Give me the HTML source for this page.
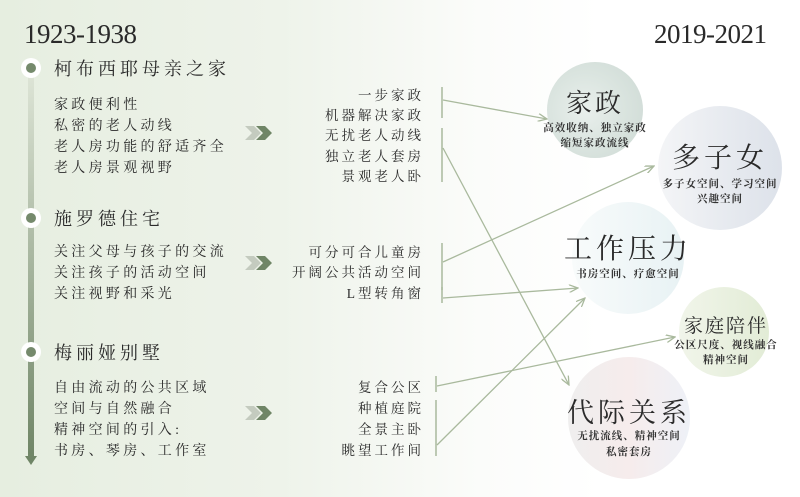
<!DOCTYPE html>
<html><head><meta charset="utf-8"><style>
html,body{margin:0;padding:0;background:#fff}
svg{display:block}
text{font-family:"Liberation Serif","Noto Serif CJK SC",serif;fill:#2a2a2a}
.l{font-size:14px;letter-spacing:3.3px}
.r{font-size:13.5px;letter-spacing:3px;text-anchor:end}
.h{font-size:18px;letter-spacing:4px}
.c{text-anchor:middle}
.s{font-size:10.5px;letter-spacing:1px;font-weight:bold;fill:#333}
</style></head><body>
<svg width="800" height="497" viewBox="0 0 800 497" xmlns="http://www.w3.org/2000/svg">
<defs>
<linearGradient id="bg" x1="0" x2="1" y1="0" y2="0">
<stop offset="0" stop-color="#e6eee0"/><stop offset="0.35" stop-color="#eef3ea"/><stop offset="0.6" stop-color="#fbfcfa"/><stop offset="0.75" stop-color="#fff"/></linearGradient>
<linearGradient id="bar" x1="0" x2="0" y1="0" y2="1"><stop offset="0" stop-color="#dfe6d8"/><stop offset="1" stop-color="#6f8566"/></linearGradient>
<radialGradient id="g1" cx="0.4" cy="0.5" r="0.6"><stop offset="0" stop-color="#e9efec"/><stop offset="0.6" stop-color="#dbe5e0"/><stop offset="1" stop-color="#d3ded9"/></radialGradient>
<linearGradient id="g2" x1="0" x2="1"><stop offset="0" stop-color="#f4f5f7"/><stop offset="0.5" stop-color="#e8ebf0"/><stop offset="1" stop-color="#dde2ea"/></linearGradient>
<linearGradient id="g3" x1="0" x2="1"><stop offset="0" stop-color="#f8fbfb"/><stop offset="1" stop-color="#e8f2f4"/></linearGradient>
<linearGradient id="g4" x1="0" x2="1"><stop offset="0" stop-color="#f1f5ea"/><stop offset="1" stop-color="#e2ecd6"/></linearGradient>
<linearGradient id="g5" x1="0" x2="1"><stop offset="0" stop-color="#efeeee"/><stop offset="0.5" stop-color="#f6ecec"/><stop offset="1" stop-color="#eef1f7"/></linearGradient>
<marker id="ar" markerWidth="10" markerHeight="8" refX="9" refY="4" orient="auto" markerUnits="userSpaceOnUse"><path d="M0,0 L9,4 L0,8" fill="none" stroke="#a9b99d" stroke-width="1.3"/></marker>
</defs>
<rect width="800" height="497" fill="url(#bg)"/>
<rect x="28" y="68" width="6" height="390" fill="url(#bar)"/>
<path d="M25,456 L37,456 L31,465 Z" fill="#6f8566"/>
<g fill="#fff"><circle cx="31" cy="68" r="10"/><circle cx="31" cy="218" r="10"/><circle cx="31" cy="352" r="10"/></g>
<g fill="#758a6c"><circle cx="31" cy="68" r="5"/><circle cx="31" cy="218" r="5"/><circle cx="31" cy="352" r="5"/></g>
<text x="24" y="43" style="font-size:27px;letter-spacing:-0.5px">1923-1938</text>
<text x="654" y="43" style="font-size:27px;letter-spacing:-0.5px">2019-2021</text>
<text class="h" x="54" y="75">柯布西耶母亲之家</text>
<text class="h" x="54" y="225">施罗德住宅</text>
<text class="h" x="54" y="359">梅丽娅别墅</text>
<text class="l" x="54" y="109">家政便利性</text>
<text class="l" x="54" y="130">私密的老人动线</text>
<text class="l" x="54" y="151">老人房功能的舒适齐全</text>
<text class="l" x="54" y="172">老人房景观视野</text>
<text class="l" x="54" y="256">关注父母与孩子的交流</text>
<text class="l" x="54" y="277">关注孩子的活动空间</text>
<text class="l" x="54" y="298">关注视野和采光</text>
<text class="l" x="54" y="392">自由流动的公共区域</text>
<text class="l" x="54" y="413">空间与自然融合</text>
<text class="l" x="54" y="434">精神空间的引入:</text>
<text class="l" x="54" y="455">书房、琴房、工作室</text>
<g>
<path d="M245,126 L254,126 L261,133 L254,140 L245,140 L252,133Z" fill="#c4cbbf"/>
<path d="M256,126 L265,126 L272,133 L265,140 L256,140 L263,133Z" fill="#6f8566"/>
<path d="M245,256 L254,256 L261,263 L254,270 L245,270 L252,263Z" fill="#c4cbbf"/>
<path d="M256,256 L265,256 L272,263 L265,270 L256,270 L263,263Z" fill="#6f8566"/>
<path d="M245,406 L254,406 L261,413 L254,420 L245,420 L252,413Z" fill="#c4cbbf"/>
<path d="M256,406 L265,406 L272,413 L265,420 L256,420 L263,413Z" fill="#6f8566"/>
</g>
<text class="r" x="424" y="100">一步家政</text>
<text class="r" x="424" y="120">机器解决家政</text>
<text class="r" x="424" y="140">无扰老人动线</text>
<text class="r" x="424" y="161">独立老人套房</text>
<text class="r" x="424" y="181">景观老人卧</text>
<text class="r" x="424" y="257">可分可合儿童房</text>
<text class="r" x="424" y="277">开阔公共活动空间</text>
<text class="r" x="424" y="298">L型转角窗</text>
<text class="r" x="424" y="392">复合公区</text>
<text class="r" x="424" y="413">种植庭院</text>
<text class="r" x="424" y="434">全景主卧</text>
<text class="r" x="424" y="455">眺望工作间</text>
<circle cx="595" cy="110" r="48" fill="url(#g1)"/>
<circle cx="720" cy="168" r="62" fill="url(#g2)"/>
<circle cx="628" cy="258" r="56" fill="url(#g3)"/>
<circle cx="724" cy="332" r="45" fill="url(#g4)"/>
<circle cx="629" cy="418" r="61" fill="url(#g5)"/>
<text class="c" x="595" y="112" style="font-size:26px;letter-spacing:3px">家政</text>
<text class="c s" x="595" y="131">高效收纳、独立家政</text>
<text class="c s" x="595" y="146">缩短家政流线</text>
<text class="c" x="720" y="167" style="font-size:28px;letter-spacing:4px">多子女</text>
<text class="c s" x="720" y="187">多子女空间、学习空间</text>
<text class="c s" x="720" y="202">兴趣空间</text>
<text class="c" x="628" y="258" style="font-size:28px;letter-spacing:4px">工作压力</text>
<text class="c s" x="628" y="277">书房空间、疗愈空间</text>
<text class="c" x="726" y="332" style="font-size:19px;letter-spacing:2px">家庭陪伴</text>
<text class="c s" x="726" y="348">公区尺度、视线融合</text>
<text class="c s" x="726" y="363">精神空间</text>
<text class="c" x="629" y="422" style="font-size:27px;letter-spacing:4px">代际关系</text>
<text class="c s" x="629" y="439">无扰流线、精神空间</text>
<text class="c s" x="629" y="455">私密套房</text>
<g stroke="#a9b99d" stroke-width="1.5" fill="none">
<line x1="442" y1="87" x2="442" y2="118"/>
<line x1="442" y1="128" x2="442" y2="182"/>
<line x1="442" y1="243" x2="442" y2="290"/>
<line x1="442" y1="287" x2="442" y2="303"/>
<line x1="436" y1="376" x2="436" y2="392"/>
<line x1="436" y1="400" x2="436" y2="456"/>
</g>
<g stroke="#a9b99d" stroke-width="1.3" fill="none" marker-end="url(#ar)">
<line x1="443" y1="100" x2="547" y2="119"/>
<line x1="443" y1="148" x2="569" y2="385"/>
<line x1="443" y1="262" x2="654" y2="166"/>
<line x1="443" y1="298" x2="578" y2="288"/>
<line x1="437" y1="386" x2="675" y2="337"/>
<line x1="437" y1="445" x2="585" y2="298"/>
</g>
</svg>
</body></html>
